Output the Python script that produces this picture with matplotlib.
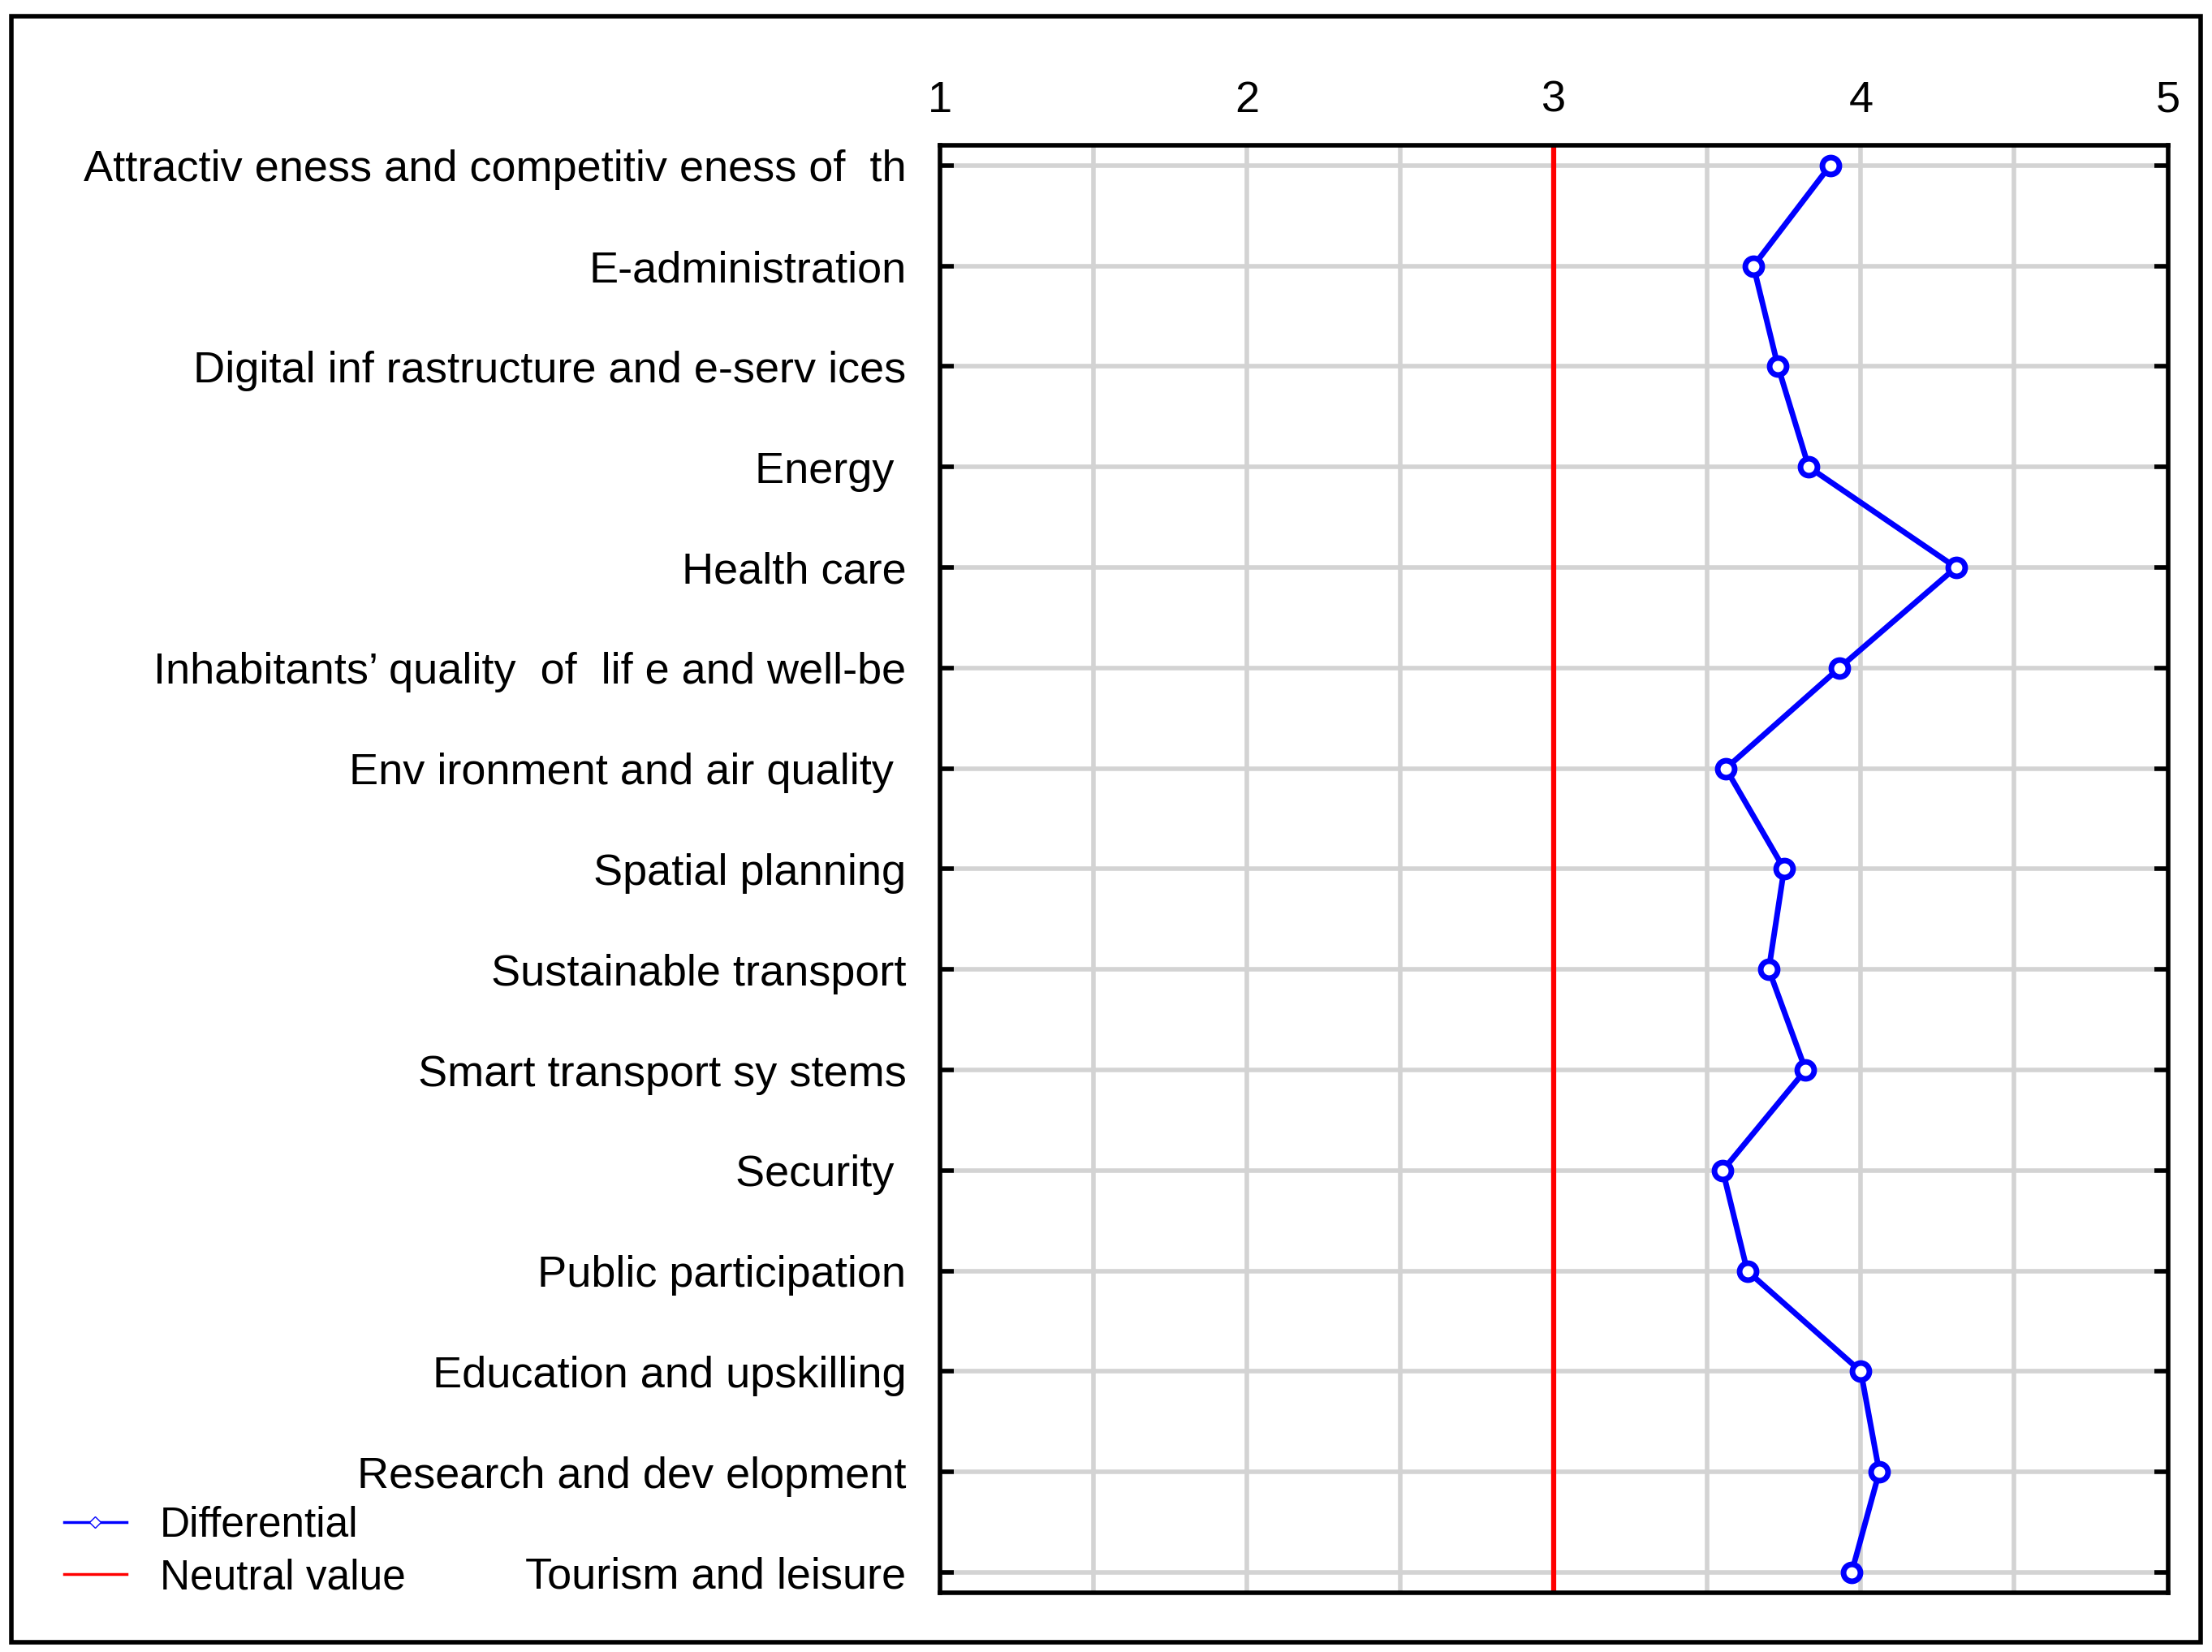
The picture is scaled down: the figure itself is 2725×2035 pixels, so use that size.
import numpy as np
import matplotlib.pyplot as plt
from matplotlib.lines import Line2D
from matplotlib.patches import Rectangle

categories = [
    "Attractiv eness and competitiv eness of  th",
    "E-administration",
    "Digital inf rastructure and e-serv ices",
    "Energy ",
    "Health care",
    "Inhabitants\u2019 quality  of  lif e and well-be",
    "Env ironment and air quality ",
    "Spatial planning",
    "Sustainable transport",
    "Smart transport sy stems",
    "Security ",
    "Public participation",
    "Education and upskilling",
    "Research and dev elopment",
    "Tourism and leisure",
]
values = [3.90, 3.65, 3.73, 3.83, 4.31, 3.93, 3.56, 3.75, 3.70, 3.82, 3.55, 3.63, 4.00, 4.06, 3.97]
neutral = 3

plt.rcParams['font.family'] = ['Liberation Sans', 'DejaVu Sans']
fig = plt.figure(figsize=(27.25, 20.35), dpi=100)
ax = fig.add_axes([0.425, 0.036, 0.555, 0.876])

y = np.arange(len(categories))
ax.axvline(neutral, color='#ff0000', lw=4.5, zorder=2)
ax.plot(values, y, color='#0000ff', lw=5, marker='o', ms=15, mfc='white',
        mew=5, zorder=3)

ax.set_xlim(1, 5)
ax.set_ylim(len(categories) - 1 + 0.2, -0.2)
ax.set_xticks([1, 2, 3, 4, 5])
ax.set_xticks(np.arange(1.5, 5, 1), minor=True)
ax.set_yticks(y)
ax.set_yticklabels(categories, fontsize=39)
ax.xaxis.tick_top()
ax.tick_params(axis='x', labelsize=39, pad=22, length=0, which='both')
ax.tick_params(axis='y', direction='in', length=12, width=4, pad=30, right=True)
ax.grid(True, which='both', color='#d3d3d3', lw=4)
ax.set_axisbelow(True)
for s in ax.spines.values():
    s.set_linewidth(4)

fig.patches.append(Rectangle((0.005, 0.006), 0.99, 0.984, transform=fig.transFigure,
                             fill=False, lw=4, ec='black'))

handles = [Line2D([], [], color='#0000ff', lw=2.5, marker='D', ms=7, mfc='white'),
           Line2D([], [], color='#ff0000', lw=2.5)]
fig.legend(handles, ['Differential', 'Neutral value'], loc='lower left',
           bbox_to_anchor=(0.012, 0.01), frameon=False, fontsize=37,
           handlelength=1.5, labelspacing=0.3)

fig.savefig('out.png')
